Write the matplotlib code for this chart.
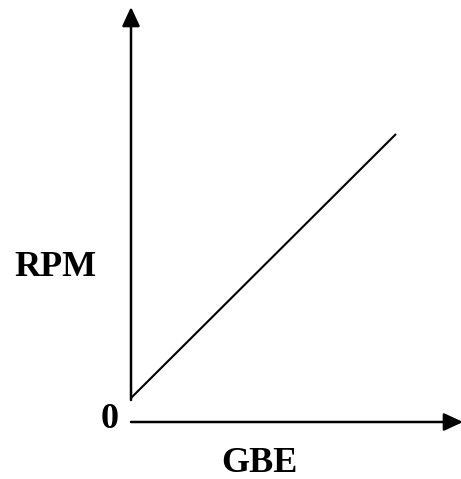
import matplotlib
matplotlib.use("Agg")
import matplotlib.pyplot as plt

# Data: proportional relation between GBE and RPM
gbe = [0.0, 1.0]
rpm = [0.0, 1.0]
x_label = "GBE"
y_label = "RPM"
origin_label = "0"

W, H = 461, 479
fig = plt.figure(figsize=(W / 100, H / 100), dpi=100)
ax = fig.add_axes([0, 0, 1, 1])

# pixel mapping: data (0,0) -> px (131,398); (1,1) -> px (396,134)
x0p, y0p, sx, sy = 131.0, 398.0, 265.0, 264.0
def px(x, y):
    return ((x - x0p) / sx, (y0p - y) / sy)

ax.set_xlim(px(0, 0)[0], px(W, 0)[0])
ax.set_ylim(px(0, H)[1], px(0, 0)[1])
ax.axis("off")

ax.plot(gbe, rpm, color="black", lw=1.5, solid_capstyle="butt")

arrow = dict(arrowstyle="-|>,head_length=0.58,head_width=0.27", mutation_scale=20,
             lw=1.8, color="black", shrinkA=0, shrinkB=0)
# y axis
ax.annotate("", xy=px(131, 7), xytext=px(131, 400), arrowprops=arrow,
            annotation_clip=False)
# x axis
ax.annotate("", xy=px(463, 422), xytext=px(131, 422), arrowprops=arrow,
            annotation_clip=False)

font = dict(family=["Liberation Serif", "DejaVu Serif"], fontweight="bold", fontsize=26,
            color="black")
ax.text(*px(55, 268), y_label, ha="center", va="center", **font)
ax.text(*px(110, 419), origin_label, ha="center", va="center", **font)
ax.text(*px(259, 464), x_label, ha="center", va="center", **font)

fig.savefig("out.png", dpi=100)
